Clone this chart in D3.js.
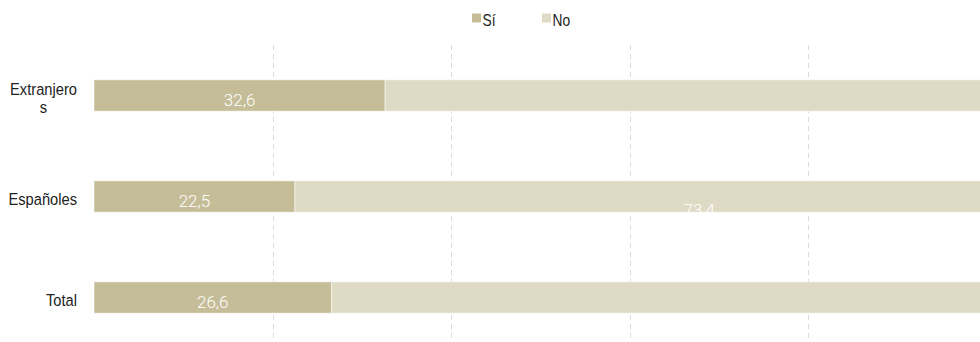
<!DOCTYPE html>
<html>
<head>
<meta charset="utf-8">
<script src="https://cdn.jsdelivr.net/npm/d3@7"></script>
<style>
  html, body { margin: 0; padding: 0; background: #fff; }
  svg { display: block; overflow: hidden; }
</style>
</head>
<body>
<svg id="chart" width="980" height="342"></svg>
<script>
// Categories and series values (percentages)
const categories = ["Extranjeros", "Españoles", "Total"];
const siValues = [32.6, 22.5, 26.6];
const noValues = [67.4, 77.5, 73.4];
const seriesNames = ["Sí", "No"];
const seriesColors = ["#c5bd98", "#dfdac4"];
const gridTicks = [20, 40, 60, 80];

const W = 980, H = 342;
const margin = { top: 45, left: 94 };
const plotBottom = 348;
const plotRight = 987;
const narrowAxis = 0.89;   // horizontal condensing for category labels
const narrowLegend = 0.86; // and for the legend entries

const svg = d3.select("#chart");
const fmt = v => d3.format(".1f")(v).replace(".", ",");

const x = d3.scaleLinear().domain([0, 100]).range([margin.left, plotRight]);
const y = d3.scaleBand().domain(categories).range([margin.top, plotBottom]).paddingInner(0.69).paddingOuter(0.345);

// Dashed vertical gridlines, behind the bars
svg.append("g")
  .selectAll("line")
  .data(gridTicks)
  .join("line")
  .attr("x1", d => Math.round(x(d)) + 0.5)
  .attr("x2", d => Math.round(x(d)) + 0.5)
  .attr("y1", margin.top)
  .attr("y2", plotBottom)
  .attr("stroke", "#dcdcdc")
  .attr("stroke-width", 1)
  .attr("stroke-dasharray", "5,4");

// Stacked rows
const rows = categories.map((c, i) => ({ cat: c, si: siValues[i], no: noValues[i] }));
const stack = d3.stack().keys(["si", "no"])(rows);

const layers = svg.append("g")
  .selectAll("g")
  .data(stack)
  .join("g")
  .attr("fill", (d, i) => seriesColors[i]);

layers.selectAll("rect")
  .data(d => d)
  .join("rect")
  .attr("x", d => x(d[0]))
  .attr("y", d => y(d.data.cat))
  .attr("width", d => x(d[1]) - x(d[0]))
  .attr("height", y.bandwidth())
  .attr("stroke", "#ffffff")
  .attr("stroke-opacity", 0.5)
  .attr("stroke-width", 1);

// Value labels for the "Sí" segments
svg.append("g")
  .selectAll("text")
  .data(stack[0])
  .join("text")
  .attr("x", d => x((d[0] + d[1]) / 2))
  .attr("y", d => y(d.data.cat) + y.bandwidth() / 2 + 10)
  .attr("text-anchor", "middle")
  .attr("fill", "#ffffff")
  .style("font-family", "Roboto, sans-serif")
  .style("font-weight", 300)
  .style("font-size", "17px")
  .text(d => fmt(d.data.si));

// Label of the total "No" share, sitting low under the middle row
const totalNo = stack[1][2];
svg.append("text")
  .attr("x", x((totalNo[0] + totalNo[1]) / 2) + 40)
  .attr("y", y(categories[1]) + y.bandwidth() / 2 + 19)
  .attr("text-anchor", "middle")
  .attr("fill", "#ffffff")
  .style("font-family", "Roboto, sans-serif")
  .style("font-weight", 300)
  .style("font-size", "17px")
  .text(fmt(totalNo.data.no));

// Category labels, wrapped to the available width and right-aligned
const labelRight = 77;
const maxLabelWidth = 72;
const catG = svg.append("g")
  .style("font-family", "'Liberation Sans', Arial, sans-serif")
  .style("font-size", "16.5px")
  .attr("fill", "#222222");

const measure = s => {
  const t = catG.append("text").text(s);
  const w = t.node().getComputedTextLength() * narrowAxis;
  t.remove();
  return w;
};

categories.forEach(cat => {
  const lines = [];
  if (measure(cat) <= maxLabelWidth) {
    lines.push(cat);
  } else {
    // break by characters when a single word is too long
    let cur = "";
    for (const ch of cat) {
      if (measure(cur + ch) > maxLabelWidth && cur) {
        lines.push(cur);
        cur = ch;
      } else {
        cur += ch;
      }
    }
    if (cur) lines.push(cur);
  }
  const blockW = d3.max(lines, measure);
  const cx = labelRight - blockW / 2;
  const cy = y(cat) + y.bandwidth() / 2;
  const lh = 18.5;
  lines.forEach((l, i) => {
    catG.append("text")
      .attr("transform", `translate(${cx},${cy + 8.7 - (lines.length - 1) * lh / 2 + i * lh}) scale(${narrowAxis},1)`)
      .attr("text-anchor", "middle")
      .text(l);
  });
});

// Legend
const legend = svg.append("g")
  .style("font-family", "'Liberation Sans', Arial, sans-serif")
  .style("font-size", "16px");
const legendX = [472, 542];
seriesNames.forEach((name, i) => {
  legend.append("rect")
    .attr("x", legendX[i])
    .attr("y", 13.5)
    .attr("width", 9)
    .attr("height", 9)
    .attr("fill", seriesColors[i]);
  legend.append("text")
    .attr("transform", `translate(${legendX[i] + 10.5},25.5) scale(${narrowLegend},1)`)
    .attr("fill", "#222")
    .text(name);
});
</script>
</body>
</html>
